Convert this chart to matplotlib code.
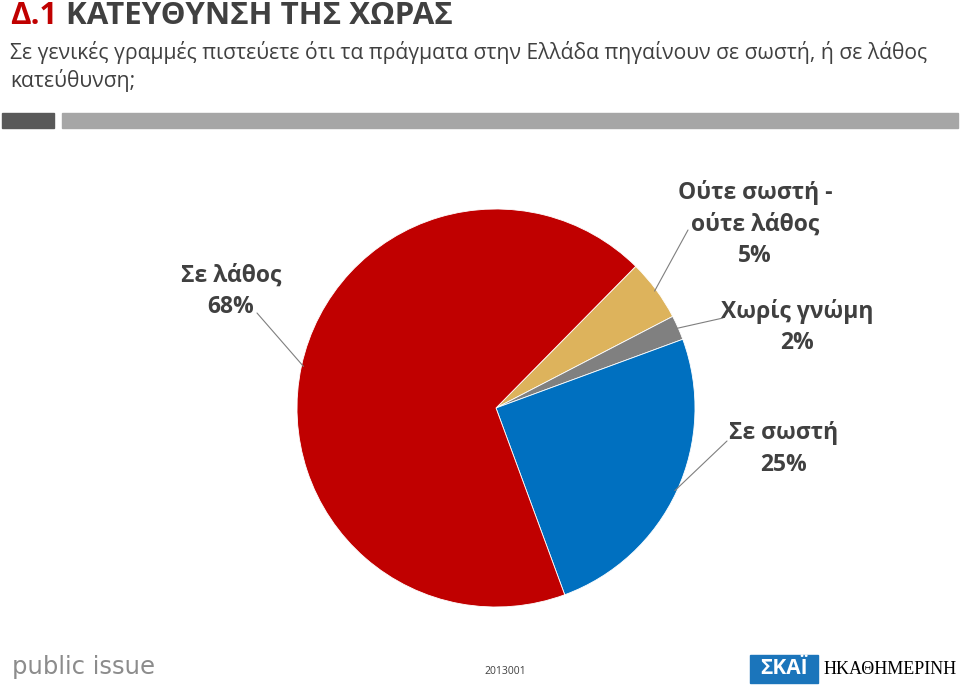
import numpy as np
import matplotlib.pyplot as plt
from matplotlib.patches import Rectangle

plt.rcParams['font.family'] = ['Open Sans', 'DejaVu Sans']

# Δεδομένα
labels = ['Ούτε σωστή -\nούτε λάθος', 'Χωρίς γνώμη', 'Σε σωστή', 'Σε λάθος']
values = [5, 2, 25, 68]
colors = ['#DDB35C', '#808080', '#0070C0', '#C00000']

W, H = 960, 685

def px(x, y):
    # пиксели -> координаты фигуры
    return x / W, 1 - y / H

fig = plt.figure(figsize=(W / 100, H / 100), dpi=100)

# Заголовок
fig.text(*px(10, 16), 'Δ.1', color='#C00000', fontsize=22.5, fontweight='bold', va='center')
fig.text(*px(66, 16), 'ΚΑΤΕΥΘΥΝΣΗ ΤΗΣ ΧΩΡΑΣ', color='#404040', fontsize=22.5,
         fontweight='bold', va='center')
fig.text(*px(10, 52), 'Σε γενικές γραμμές πιστεύετε ότι τα πράγματα στην Ελλάδα πηγαίνουν σε σωστή, ή σε λάθος',
         color='#404040', fontsize=15.2, va='center')
fig.text(*px(10, 81), 'κατεύθυνση;', color='#404040', fontsize=15.2, va='center')

# Полосы под заголовком
fig.patches.append(Rectangle(px(2, 128), 52 / W, 15 / H, transform=fig.transFigure,
                             color='#595959', zorder=0))
fig.patches.append(Rectangle(px(62, 128), 896 / W, 15 / H, transform=fig.transFigure,
                             color='#A6A6A6', zorder=0))

# Круговая диаграмма
ax = fig.add_axes([297 / W, 78 / H, 398 / W, 398 / H])
wedges, _ = ax.pie(values, colors=colors, startangle=45.4, counterclock=False,
                   radius=1, wedgeprops=dict(linewidth=0.6, edgecolor='white'))
ax.set_xlim(-1, 1)
ax.set_ylim(-1, 1)
ax.set_aspect('equal')
ax.axis('off')

# Подписи и выноски
text_pos = [(755, 224), (797, 327), (784, 449), (231, 291)]
line_end = [(688, 230), (723, 318), (727, 441), (257, 313)]
for w, lab, v, tp, le in zip(wedges, labels, values, text_pos, line_end):
    ang = np.deg2rad((w.theta1 + w.theta2) / 2)
    xy = (0.99 * np.cos(ang), 0.99 * np.sin(ang))
    ax.annotate('', xy=xy, xycoords='data', xytext=px(*le), textcoords='figure fraction',
                arrowprops=dict(arrowstyle='-', color='#7F7F7F', lw=0.8,
                                shrinkA=0, shrinkB=0))
    fig.text(*px(*tp), f'{lab}\n{v}%', color='#404040', fontsize=16.5, fontweight='bold',
             ha='center', va='center', linespacing=1.42)

# Нижний колонтитул
fig.text(*px(12, 667), 'public issue', color='#8C8C8C', fontsize=17.5, va='center',
         family=['DejaVu Sans'])
fig.text(*px(505, 672), '2013001', color='#404040', fontsize=7.5, ha='center', va='center')
fig.patches.append(Rectangle(px(750, 683), 68 / W, 28 / H, transform=fig.transFigure,
                             color='#1B75BB', zorder=0))
fig.text(*px(784, 669), 'ΣΚΑΪ', color='white', fontsize=15, fontweight='bold',
         ha='center', va='center')
fig.text(*px(957, 669), 'ΗΚΑΘΗΜΕΡΙΝΗ', color='black', fontsize=13, ha='right',
         va='center', family=['Liberation Serif'])

fig.savefig('out.png', dpi=100)
